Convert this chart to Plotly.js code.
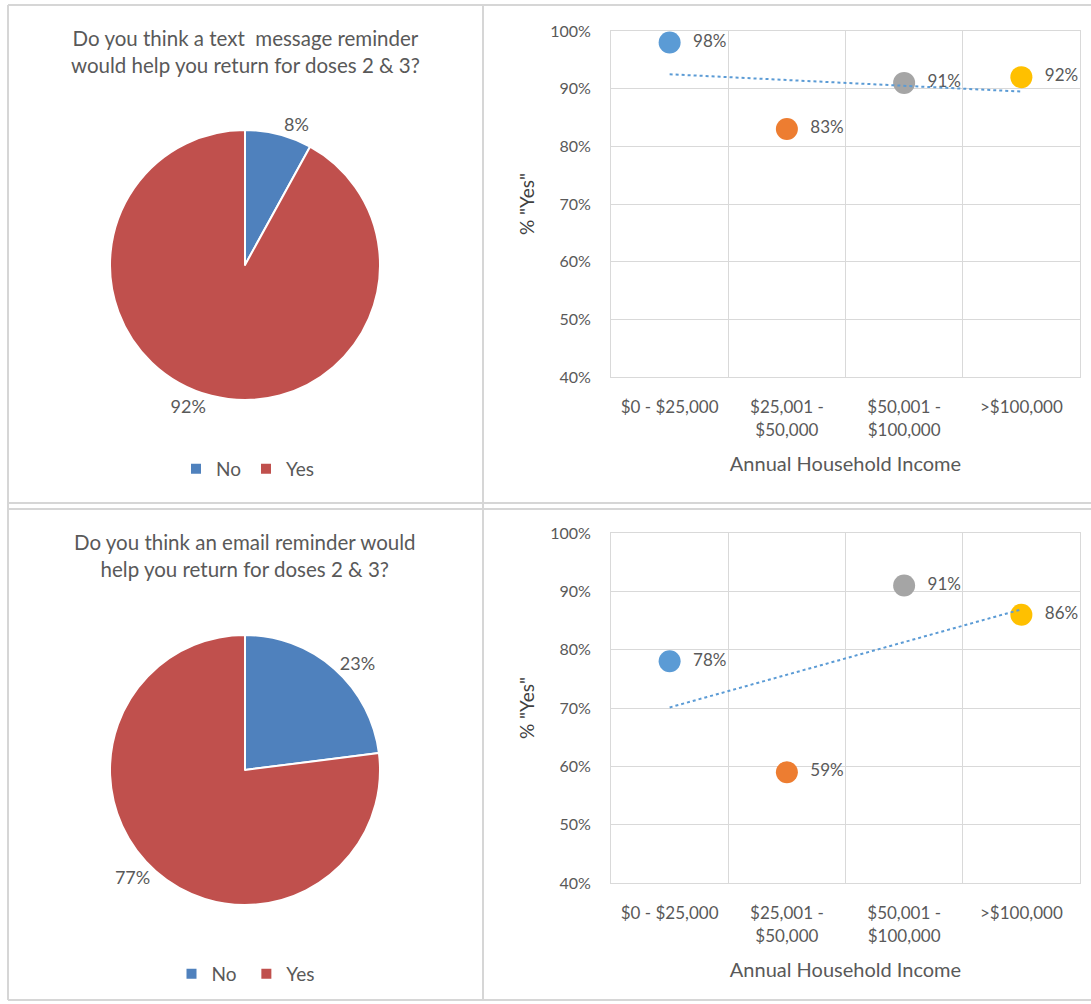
<!DOCTYPE html>
<html>
<head>
<meta charset="utf-8">
<script src="https://cdn.plot.ly/plotly-3.0.1.min.js"></script>
<style>
  html, body { margin: 0; padding: 0; background: #ffffff; }
  #chart { width: 1091px; height: 1004px; }
</style>
</head>
<body>
<div id="chart"></div>
<script>
// ---------- data ----------
const pieLabelsText = ["No", "Yes"];
const pieLabelsEmail = ["No ", "Yes "];   // trailing space keeps the two legends separate
const textPieValues = [8, 92];
const emailPieValues = [23, 77];
const pieColors = ["#4F81BD", "#C0504D"];

const textTitle = "Do you think a text  message reminder<br>would help you return for doses 2 &amp; 3?";
const emailTitle = "Do you think an email reminder would<br>help you return for doses 2 &amp; 3?";

const incomeCategories = ["$0 - $25,000", "$25,001 -<br>$50,000", "$50,001 -<br>$100,000", ">$100,000"];
const textYesPct = [98, 83, 91, 92];
const emailYesPct = [78, 59, 91, 86];
const pointColors = ["#5B9BD5", "#ED7D31", "#A5A5A5", "#FFC000"];

const yTitle = '% "Yes"';
const xTitle = "Annual Household Income";

// ---------- helpers ----------
const W = 1091, H = 1004;
const px = v => v / W;
const py = v => 1 - v / H;
const FONT = "Lato, 'Open Sans', sans-serif";
const GREY = "#595959";
const GRID = "#D9D9D9";

// least-squares linear trendline over category index (as Excel does)
function trend(vals) {
  const n = vals.length;
  const xs = vals.map((_, i) => i + 1);
  const mx = xs.reduce((a, b) => a + b, 0) / n;
  const my = vals.reduce((a, b) => a + b, 0) / n;
  let sxy = 0, sxx = 0;
  for (let i = 0; i < n; i++) { sxy += (xs[i] - mx) * (vals[i] - my); sxx += (xs[i] - mx) ** 2; }
  const b = sxy / sxx, a = my - b * mx;
  return [a + b * xs[0], a + b * xs[n - 1]];
}

function pieTrace(labels, values, domain, legendId) {
  return {
    type: "pie",
    labels: labels,
    values: values,
    sort: false,
    direction: "clockwise",
    rotation: 0,
    marker: { colors: pieColors, line: { color: "#ffffff", width: 2 } },
    textinfo: "percent",
    texttemplate: "%{percent:.0%}",
    textposition: "outside",
    outsidetextfont: { family: FONT, size: 18, color: GREY },
    domain: domain,
    legend: legendId,
    hoverinfo: "label+percent"
  };
}

function scatterTraces(vals, xa, ya) {
  const t = trend(vals);
  return [
    {
      type: "scatter",
      mode: "markers+text",
      x: incomeCategories,
      y: vals,
      marker: { color: pointColors, size: 22 },
      text: vals.map(v => "\u00a0\u00a0" + v + "%"),
      textposition: "middle right",
      textfont: { family: FONT, size: 17, color: GREY },
      xaxis: xa, yaxis: ya,
      showlegend: false,
      cliponaxis: false
    },
    {
      type: "scatter",
      mode: "lines",
      x: [incomeCategories[0], incomeCategories[incomeCategories.length - 1]],
      y: t,
      line: { color: "#5B9BD5", width: 2, dash: "dot" },
      xaxis: xa, yaxis: ya,
      showlegend: false,
      hoverinfo: "skip"
    }
  ];
}

function xAxis(domain, anchor) {
  return {
    domain: domain,
    anchor: anchor,
    type: "category",
    categoryorder: "array",
    categoryarray: incomeCategories,
    range: [-0.5, incomeCategories.length - 0.5],
    tickson: "boundaries",
    showgrid: true,
    gridcolor: GRID,
    gridwidth: 1,
    showline: true,
    linecolor: GRID,
    mirror: true,
    ticks: "",
    ticklen: 0,
    ticklabelstandoff: 15,
    tickfont: { family: FONT, size: 17, color: GREY },
    title: { text: xTitle, font: { family: FONT, size: 20, color: GREY }, standoff: 18 },
    fixedrange: true
  };
}

function yAxis(domain, anchor) {
  return {
    domain: domain,
    anchor: anchor,
    range: [40, 100],
    dtick: 10,
    tick0: 40,
    ticksuffix: "%",
    showgrid: true,
    gridcolor: GRID,
    gridwidth: 1,
    zeroline: false,
    showline: true,
    linecolor: GRID,
    mirror: true,
    ticks: "",
    ticklabelstandoff: 16,
    tickfont: { family: FONT, size: 16, color: GREY },
    title: { text: yTitle, font: { family: FONT, size: 19, color: "#404040" }, standoff: 10 },
    fixedrange: true
  };
}

const data = [
  pieTrace(pieLabelsText, textPieValues, { x: [px(110), px(380)], y: [py(400), py(130)] }, "legend"),
  pieTrace(pieLabelsEmail, emailPieValues, { x: [px(110), px(380)], y: [py(905), py(635)] }, "legend2"),
  ...scatterTraces(textYesPct, "x", "y"),
  ...scatterTraces(emailYesPct, "x2", "y2")
];

const border = "#D6D6D6";
const shapes = [
  { type: "line", xref: "paper", yref: "paper", x0: px(8), x1: 1, y0: py(5), y1: py(5), line: { color: border, width: 2 } },
  { type: "line", xref: "paper", yref: "paper", x0: px(8), x1: px(8), y0: py(5), y1: py(1000), line: { color: border, width: 2 } },
  { type: "line", xref: "paper", yref: "paper", x0: px(483), x1: px(483), y0: py(5), y1: py(1000), line: { color: border, width: 2 } },
  { type: "line", xref: "paper", yref: "paper", x0: px(8), x1: 1, y0: py(503), y1: py(503), line: { color: border, width: 2 } },
  { type: "line", xref: "paper", yref: "paper", x0: px(8), x1: 1, y0: py(509), y1: py(509), line: { color: border, width: 2 } },
  { type: "line", xref: "paper", yref: "paper", x0: px(8), x1: 1, y0: py(1000), y1: py(1000), line: { color: border, width: 2 } }
];

const annotations = [
  { text: textTitle, xref: "paper", yref: "paper", x: px(245), y: py(52), xanchor: "center", yanchor: "middle",
    showarrow: false, align: "center", font: { family: FONT, size: 20.5, color: GREY } },
  { text: emailTitle, xref: "paper", yref: "paper", x: px(245), y: py(555), xanchor: "center", yanchor: "middle",
    showarrow: false, align: "center", font: { family: FONT, size: 20.5, color: GREY } }
];

const legendBase = {
  orientation: "h",
  xanchor: "center",
  yanchor: "middle",
  font: { family: FONT, size: 19, color: GREY },
  bgcolor: "rgba(0,0,0,0)",
  itemwidth: 30,
  tracegroupgap: 0
};

const layout = {
  width: W,
  height: H,
  margin: { l: 0, r: 0, t: 0, b: 0 },
  paper_bgcolor: "#ffffff",
  plot_bgcolor: "#ffffff",
  font: { family: FONT, color: GREY },
  showlegend: true,
  legend: Object.assign({}, legendBase, { x: px(248), y: py(469) }),
  legend2: Object.assign({}, legendBase, { x: px(248), y: py(974) }),
  xaxis: xAxis([px(611), px(1080)], "y"),
  yaxis: yAxis([py(377), py(31)], "x"),
  xaxis2: xAxis([px(611), px(1080)], "y2"),
  yaxis2: yAxis([py(883), py(533)], "x2"),
  shapes: shapes,
  annotations: annotations
};

Plotly.newPlot("chart", data, layout, { displayModeBar: false, staticPlot: true });
</script>
</body>
</html>
